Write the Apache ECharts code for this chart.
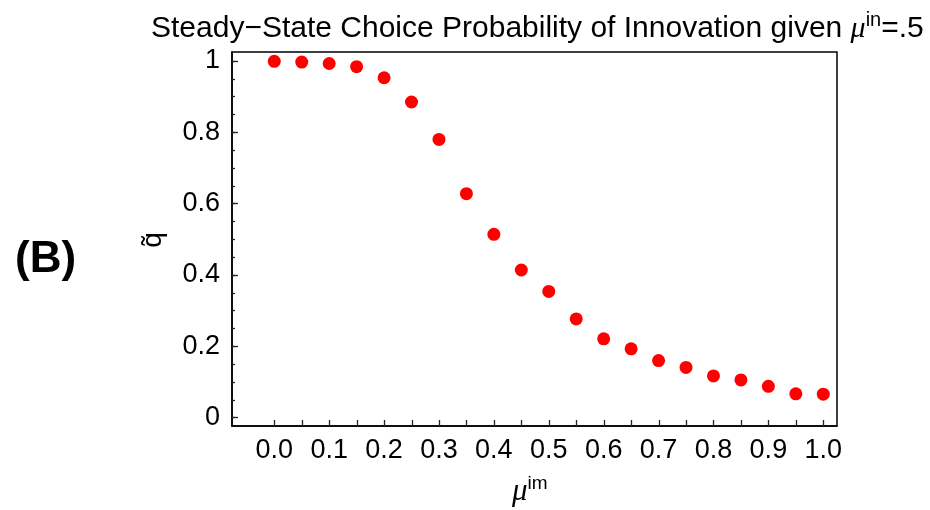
<!DOCTYPE html>
<html><head><meta charset="utf-8">
<script src="https://cdn.jsdelivr.net/npm/echarts@6/dist/echarts.min.js"></script>
<style>html,body{margin:0;padding:0;background:#fff}#c{width:930px;height:510px}</style>
</head><body><div id="c"></div>
<script>
const muIm = [0.0,0.05,0.1,0.15,0.2,0.25,0.3,0.35,0.4,0.45,0.5,0.55,0.6,0.65,0.7,0.75,0.8,0.85,0.9,0.95,1.0];
const qTilde = [0.999,0.997,0.993,0.984,0.953,0.885,0.780,0.628,0.514,0.414,0.354,0.277,0.221,0.193,0.160,0.141,0.117,0.106,0.088,0.067,0.066];
const xLabelValues = [0.0,0.1,0.2,0.3,0.4,0.5,0.6,0.7,0.8,0.9,1.0];
const xTickValues = [0.0,0.05,0.1,0.15,0.2,0.25,0.3,0.35,0.4,0.45,0.5,0.55,0.6,0.65,0.7,0.75,0.8,0.85,0.9,0.95,1.0];
const yLabelValues = [0,0.2,0.4,0.6,0.8,1];
const yMinorTickValues = [0,0.05,0.1,0.15,0.2,0.25,0.3,0.35,0.4,0.45,0.5,0.55,0.6,0.65,0.7,0.75,0.8,0.85,0.9,0.95,1];

const FONT = 'Liberation Sans';
const XMIN = -0.077, XMAX = 1.025, YMIN = -0.0233, YMAX = 1.0252;
const tickStyle = {color:'#222',width:1.3};
const chart = echarts.init(document.getElementById('c'), null, {renderer:'canvas'});
const option = {
  backgroundColor:'#fff',
  animation:false,
  title:{
    left:146, top:5,
    text:'{a|Steady\u2212State Choice Probability of Innovation given }{mu|\u03bc}{sup|in}{a|=.5}',
    textStyle:{
      fontWeight:'normal',
      rich:{
        a:{fontFamily:FONT,fontWeight:'normal',fontSize:30,color:'#000',lineHeight:38},
        mu:{fontFamily:'Liberation Serif',fontStyle:'italic',fontWeight:'normal',fontSize:30,color:'#000',lineHeight:38},
        sup:{fontFamily:FONT,fontWeight:'normal',fontSize:20,color:'#000',lineHeight:20,verticalAlign:'top'}
      }
    }
  },
  grid:{left:232,right:93,top:52,bottom:84,show:true,borderColor:'#000',borderWidth:1.5,backgroundColor:'transparent',containLabel:false},
  xAxis:[{
    type:'value', min:XMIN, max:XMAX,
    splitLine:{show:false},
    axisLine:{show:true,onZero:false,lineStyle:{color:'#000',width:1.5}},
    axisTick:{show:false},
    axisLabel:{customValues:xLabelValues,formatter:v=>v.toFixed(1),fontFamily:FONT,fontSize:27,color:'#000',margin:11}
  },{
    // helper whose zero is the left edge (carries the y ticks)
    type:'value', min:0, max:1, show:false
  }],
  yAxis:[{
    type:'value', min:YMIN, max:YMAX,
    splitLine:{show:false},
    axisLine:{show:true,onZero:false,lineStyle:{color:'#000',width:1.5}},
    axisTick:{show:false},
    axisLabel:{customValues:yLabelValues,formatter:v=>String(v),fontFamily:FONT,fontSize:27,color:'#000',margin:12}
  },{
    type:'value', min:YMIN, max:YMAX, position:'left',
    splitLine:{show:false},
    axisLine:{show:false,onZero:true,onZeroAxisIndex:1},
    axisTick:{show:true,inside:true,length:3,customValues:yMinorTickValues,lineStyle:tickStyle},
    axisLabel:{show:false}
  },{
    type:'value', min:YMIN, max:YMAX, position:'left',
    splitLine:{show:false},
    axisLine:{show:false,onZero:true,onZeroAxisIndex:1},
    axisTick:{show:true,inside:true,length:6,customValues:yLabelValues,lineStyle:tickStyle},
    axisLabel:{show:false}
  }],
  graphic:[
    {type:'text',left:15,top:238,style:{text:'(B)',fontFamily:FONT,fontWeight:'bold',fontSize:44,fill:'#000'}},
    {type:'text',x:153,y:240,rotation:Math.PI/2,style:{text:'q\u0303',fontFamily:FONT,fontSize:28,fill:'#000',align:'center',verticalAlign:'middle'}},
    {type:'text',left:512,top:474,style:{
      text:'{mu|\u03bc}{sup|im}',
      rich:{
        mu:{fontFamily:'Liberation Serif',fontStyle:'italic',fontSize:31,fill:'#000',lineHeight:36},
        sup:{fontFamily:FONT,fontSize:19,fill:'#000',lineHeight:19,verticalAlign:'top'}
      }}}
  ],
  series:[{
    // x-axis tick marks standing on the bottom edge, placed through the axis scales
    type:'custom', silent:true, clip:false, z:5,
    xAxisIndex:0, yAxisIndex:0,
    data:xTickValues.map(v=>[v,YMIN]),
    renderItem:function(params, api){
      const p = api.coord([api.value(0), api.value(1)]);
      const x = Math.round(p[0]) + 0.5;
      return {type:'line', shape:{x1:x,y1:p[1],x2:x,y2:p[1]-6}, style:{stroke:'#222',lineWidth:1.3}};
    }
  },{
    type:'scatter',
    xAxisIndex:0, yAxisIndex:0,
    data:muIm.map((x,i)=>[x,qTilde[i]]),
    symbol:'circle', symbolSize:13,
    itemStyle:{color:'#ff0000',opacity:1}
  }]
};
chart.setOption(option);
</script></body></html>
